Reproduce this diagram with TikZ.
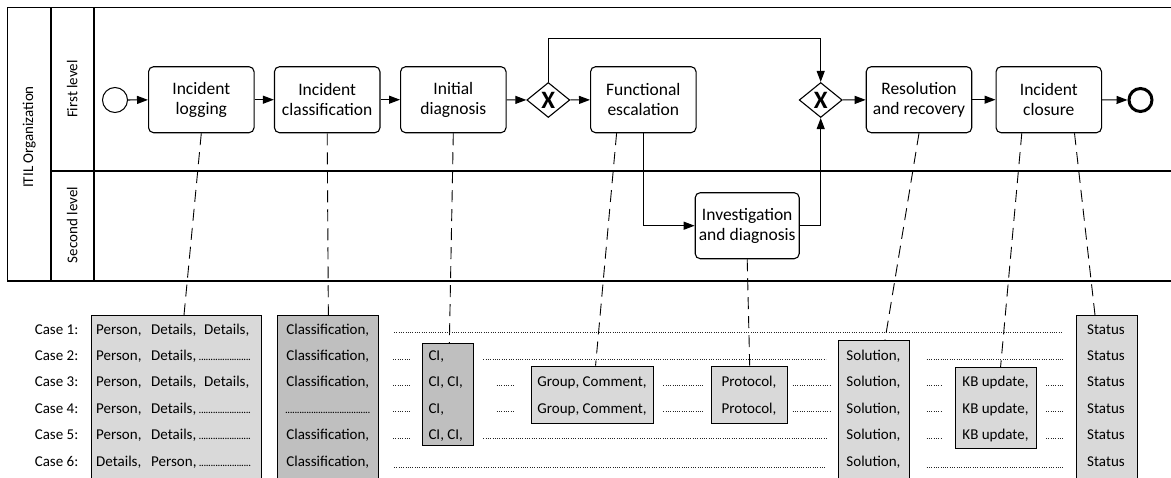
\documentclass[tikz,border=0pt]{standalone}
\usepackage{fontspec}
\setmainfont{Carlito}
\usepackage{tikz}
\newcommand*{\dotRun}[1]{\hbox to #1{\xleaders\hbox to 2.3pt{\hss{\fontsize{11}{11}\selectfont.}\hss}\hfill}}
\usetikzlibrary{positioning}
\usetikzlibrary{calc}
\usetikzlibrary{arrows.meta}
\usetikzlibrary{shapes.geometric}
\definecolor{dataLight}{HTML}{D9D9D9}
\definecolor{dataDark}{HTML}{BFBFBF}
\tikzset{BPMNstyle/.style={
    x=1pt, y=-1pt,% one unit = one pixel, y runs downwards
    every node/.style={font=\fontsize{15}{17}\selectfont, inner sep=0pt},
    >={Triangle[length=11pt,width=8pt]},
    poolLine/.style={line width=1.3pt},
    taskBox/.style={draw, rounded corners=5pt, line width=1.1pt, fill=white,
      minimum width=105.5pt, minimum height=66pt, align=center,
      font=\fontsize{17.5}{20.5}\selectfont},
    gateWay/.style={draw, diamond, aspect=1.23, minimum width=43pt,
      minimum height=35pt, line width=1.1pt, fill=white,
      font=\fontsize{25}{25}\selectfont\bfseries},
    startEvent/.style={draw, circle, minimum size=25pt, line width=1pt},
    endEvent/.style={draw, circle, minimum size=23pt, line width=3pt},
    flow/.style={->, line width=1.1pt},
    assoc/.style={dash pattern=on 12pt off 7pt, line width=0.9pt},
    dataBox/.style={draw, anchor=north west, line width=1.1pt, fill=dataLight},
    filler/.style={dash pattern=on 1pt off 1.3pt, line width=1pt, black!85}
  }
}
\begin{document}
\begin{tikzpicture}[BPMNstyle]
    \clip (0,0) rectangle (1171,477);

    % pool and lanes
    \draw[poolLine] (1171,7.3) -| (7.3,281) -- (1171,281);
    \draw[poolLine] (51,7.3) -- (51,281) (94,7.3) -- (94,281) (51,171) -- (1171,171);
    \node[rotate=90] (poolLabel) at (29.3,137) {ITIL Organization};
    \node[rotate=90] (laneOne) at (72.3,89) {First level};
    \node[rotate=90] (laneTwo) at (72.3,225) {Second level};

    % process
    \node[startEvent] (start) at (115,100) {};
    \node[taskBox] (logging) at (201.3,99.7) {Incident\\logging};
    \node[taskBox] (classification) at (327.2,99.7) {Incident\\classification};
    \node[taskBox] (diagnosis) at (453.3,99.7) {Initial\\diagnosis};
    \node[gateWay] (gwSplit) at (548.3,100) {X};
    \node[taskBox] (escalation) at (643.3,99.7) {Functional\\escalation};
    \node[taskBox, minimum width=104pt] (investigation) at (747.2,225.7) {Investigation\\and diagnosis};
    \node[gateWay] (gwJoin) at (820.7,100) {X};
    \node[taskBox] (resolution) at (919,99.7) {Resolution\\and recovery};
    \node[taskBox] (closure) at (1048.8,99.7) {Incident\\closure};
    \node[endEvent] (finish) at (1140.5,100) {};
    \coordinate (loopTop) at (0,38.3);

    \draw[flow] (start) -- (logging);
    \draw[flow] (logging) -- (classification);
    \draw[flow] (classification) -- (diagnosis);
    \draw[flow] (diagnosis) -- (gwSplit);
    \draw[flow] (gwSplit) -- (escalation);
    \draw[flow] (gwSplit.north) -- (gwSplit.north |- loopTop) -| (gwJoin.north);
    \draw[flow] (escalation) |- (investigation);
    \draw[flow] (investigation) -| (gwJoin);
    \draw[flow] (gwJoin) -- (resolution);
    \draw[flow] (resolution) -- (closure);
    \draw[flow] (closure) -- (finish);

    % event log columns
    \node[dataBox, minimum width=170pt, minimum height=175pt] (personBox) at (90.7,315) {};
    \node[dataBox, fill=dataDark, minimum width=101pt, minimum height=175pt] (classBox) at (277.3,315) {};
    \node[dataBox, fill=dataDark, minimum width=51pt, minimum height=101.7pt] (ciBox) at (422.3,343.3) {};
    \node[dataBox, minimum width=122.6pt, minimum height=57.6pt] (groupBox) at (530.7,365.7) {};
    \node[dataBox, minimum width=76.3pt, minimum height=57.6pt] (protocolBox) at (711,365.7) {};
    \node[dataBox, minimum width=71.6pt, minimum height=150pt] (solutionBox) at (837.7,340) {};
    \node[dataBox, minimum width=80.4pt, minimum height=81pt] (kbBox) at (955.3,367.3) {};
    \node[dataBox, minimum width=61pt, minimum height=175pt] (statusBox) at (1075.7,315) {};

    \draw[assoc] (logging.south) -- ($(personBox.north west)+(93.3,0)$);
    \draw[assoc] (classification.south) -- (classBox.north);
    \draw[assoc] (diagnosis.south) -- ($(ciBox.north)+(1,0)$);
    \draw[assoc] ($(escalation.south west)+(26.6,0)$) -- ($(groupBox.north)+(3,0)$);
    \draw[assoc] (investigation.south) -- (protocolBox.north);
    \draw[assoc] (resolution.south) -- ($(solutionBox.north west)+(47.3,0)$);
    \draw[assoc] ($(closure.south west)+(26.3,0)$) -- ($(kbBox.north)+(4.5,0)$);
    \draw[assoc] ($(closure.south west)+(79,0)$) -- ($(statusBox.north west)+(19.3,0)$);

    % cases
    \foreach \i/\y in {1/334.1,2/360.5,3/386.9,4/413.3,5/439.7,6/466.1} {
        \node[anchor=base east] (case\i) at (78.5,\y) {Case \i:};
        \node[anchor=base] (status\i) at (1106,\y) {Status};
    }
    \node[anchor=base west] (person1) at (96,334.1) {\makebox[55pt][l]{Person,}\makebox[53pt][l]{Details,}Details,};
    \node[anchor=base west] (person2) at (96,360.5) {\makebox[55pt][l]{Person,}Details,\,\dotRun{52pt}};
    \node[anchor=base west] (person3) at (96,386.9) {\makebox[55pt][l]{Person,}\makebox[53pt][l]{Details,}Details,};
    \node[anchor=base west] (person4) at (96,413.3) {\makebox[55pt][l]{Person,}Details,\,\dotRun{52pt}};
    \node[anchor=base west] (person5) at (96,439.7) {\makebox[55pt][l]{Person,}Details,\,\dotRun{52pt}};
    \node[anchor=base west] (person6) at (96,466.1) {\makebox[55pt][l]{Details,}Person,\,\dotRun{52pt}};
    \foreach \i/\y in {1/334.1,2/360.5,3/386.9,5/439.7,6/466.1} {
        \node[anchor=base] (class\i) at (327.8,\y) {Classification,};
    }
    \node[anchor=base] (class4) at (327.8,413.3) {\dotRun{85pt}};
    \node[anchor=base west] (ci2) at (428.3,360.5) {CI,};
    \node[anchor=base west] (ci3) at (428.3,386.9) {CI, CI,};
    \node[anchor=base west] (ci4) at (428.3,413.3) {CI,};
    \node[anchor=base west] (ci5) at (428.3,439.7) {CI, CI,};
    \foreach \i/\y in {3/386.9,4/413.3} {
        \node[anchor=base] (group\i) at (592,\y) {Group, Comment,};
        \node[anchor=base] (protocol\i) at (749,\y) {Protocol,};
    }
    \foreach \i/\y in {2/360.5,3/386.9,4/413.3,5/439.7,6/466.1} {
        \node[anchor=base] (solution\i) at (873.5,\y) {Solution,};
    }
    \foreach \i/\y in {3/386.9,4/413.3,5/439.7} {
        \node[anchor=base] (kb\i) at (995.5,\y) {KB update,};
    }

    % fillers between the columns
    \draw[filler] (394,332.6) -- (1063,332.6);
    \draw[filler] (393,359) -- (409.3,359) (483.3,359) -- (826,359) (926.7,359) -- (1063,359);
    \foreach \y in {385.4,411.8} {
        \draw[filler] (393,\y) -- (409.3,\y) (496.7,\y) -- (514.3,\y)
            (663.3,\y) -- (703.3,\y) (792.7,\y) -- (831,\y)
            (926.7,\y) -- (942.7,\y) (1046,\y) -- (1062.7,\y);
    }
    \draw[filler] (393,438.2) -- (409.3,438.2) (483.3,438.2) -- (826.7,438.2)
        (926.7,438.2) -- (942.7,438.2) (1046,438.2) -- (1062.7,438.2);
    \draw[filler] (394,467) -- (826,467) (926.7,467) -- (1063,467);
\end{tikzpicture}
\end{document}
